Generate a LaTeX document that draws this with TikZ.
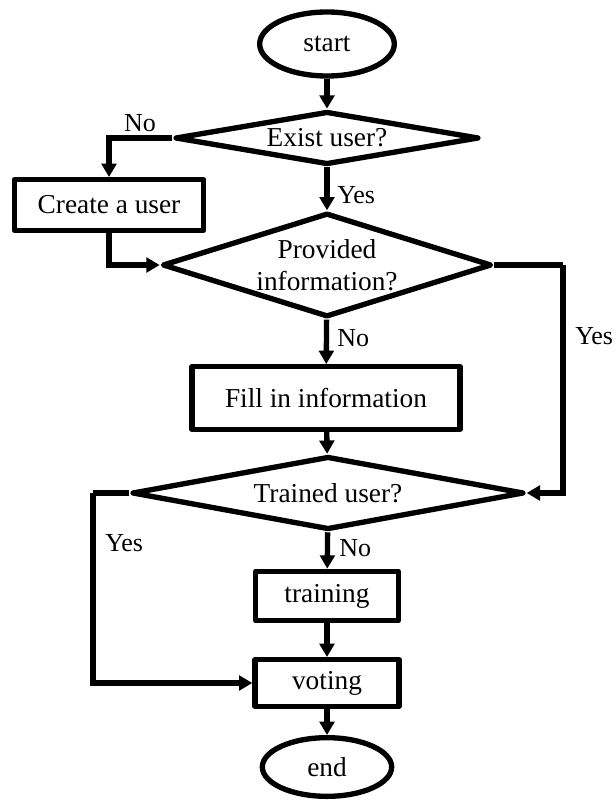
\documentclass[tikz,border=0pt]{standalone}
\usepackage{fontspec}
\setmainfont{Liberation Serif}
\usetikzlibrary{shapes.geometric,arrows.meta}
\tikzset{
    base/.style={draw, black, line width=4pt, line join=round, inner sep=0pt, font=\fontsize{20.5}{24}\selectfont},
    term/.style={base, ellipse},
    proc/.style={base, rectangle},
    decide/.style={base, diamond, align=center},
    lbl/.style={inner sep=0pt, font=\fontsize{19.5}{23}\selectfont},
    arr/.style={line width=4pt, -{Triangle[length=10pt,width=11pt]}},
    wire/.style={line width=4pt, line join=miter}
}
\begin{document}
\begin{tikzpicture}[x=0.75pt, y=-0.75pt]
    \useasboundingbox (0,0) rectangle (616,807);

    \node[term, minimum width=101pt, minimum height=48pt] (start) at (327,44) {start};
    \node[decide, minimum width=228pt, minimum height=40pt, aspect=5.5] (exist) at (327,138) {Exist user?};
    \node[proc, minimum width=142pt, minimum height=38pt] (create) at (109,205) {Create a user};
    \node[decide, minimum width=247pt, minimum height=78pt, aspect=3.1] (provided) at (327,265) {Provided\\information?};
    \node[proc, minimum width=201pt, minimum height=47pt] (fill) at (326,398) {Fill in information};
    \node[decide, minimum width=294pt, minimum height=55pt, aspect=5.2] (trained) at (328,493) {Trained user?};
    \node[proc, minimum width=107pt, minimum height=37pt] (training) at (327,596) {training};
    \node[proc, minimum width=108pt, minimum height=35pt] (voting) at (327,683) {voting};
    \node[term, minimum width=97pt, minimum height=44pt] (end) at (327,767) {end};

    \coordinate (yesturn) at (563,265);
    \coordinate (noturn) at (93,493);

    \draw[arr] (start) -- (exist);
    \draw[arr] (exist.west) -| (create.north);
    \draw[arr] (exist) -- (provided);
    \draw[arr] (create.south) |- (provided.west);
    \draw[arr] (provided) -- (fill);
    \draw[wire] (provided.east) -- (yesturn);
    \draw[arr] (yesturn) |- (trained.east);
    \draw[arr] (fill) -- (trained);
    \draw[wire] (trained.west) -- (noturn);
    \draw[arr] (noturn) |- (voting.west);
    \draw[arr] (trained) -- (training);
    \draw[arr] (training) -- (voting);
    \draw[arr] (voting) -- (end);

    \node[lbl] (noexist) at (140,123) {No};
    \node[lbl, anchor=west] (yesexist) at (337,195) {Yes};
    \node[lbl, anchor=west] (noprov) at (337,338) {No};
    \node[lbl, anchor=west] (yesprov) at (575,336) {Yes};
    \node[lbl, anchor=west] (yestrain) at (105,543) {Yes};
    \node[lbl, anchor=west] (notrain) at (339,548) {No};
\end{tikzpicture}
\end{document}
